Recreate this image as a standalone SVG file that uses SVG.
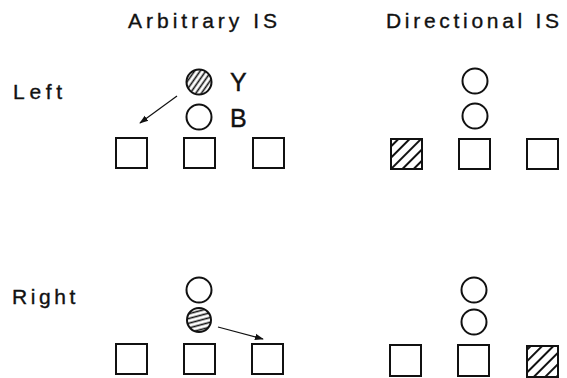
<svg xmlns="http://www.w3.org/2000/svg" width="567" height="378" viewBox="0 0 567 378">
  <style>
    .lbl { font-family: "Liberation Sans", Arial, sans-serif; font-size: 21px; letter-spacing: 4px; fill: #111; stroke: #111; stroke-width: 0.35px; }
    .tag { font-family: "Liberation Sans", Arial, sans-serif; font-size: 25px; fill: #111; stroke: #111; stroke-width: 0.4px; }
    .box { fill: #fff; stroke: #111; stroke-width: 2; }
    .dot { fill: #fff; stroke: #111; stroke-width: 2; }
    .arrow { stroke: #111; stroke-width: 1.2; fill: none; marker-end: url(#head); }
  </style>
  <defs>
    <marker id="head" viewBox="0 0 10 10" refX="9" refY="5" markerWidth="9" markerHeight="9" markerUnits="userSpaceOnUse" orient="auto">
      <path d="M0,1.5 L10,5 L0,8.5 Z" fill="#111"/>
    </marker>
    <pattern id="hatchBox" width="8" height="8" patternUnits="userSpaceOnUse" patternTransform="rotate(-45)">
      <line x1="0" y1="4" x2="8" y2="4" stroke="#111" stroke-width="2"/>
    </pattern>
    <pattern id="hatchSteep" width="4.6" height="4.6" patternUnits="userSpaceOnUse" patternTransform="rotate(-55)">
      <line x1="0" y1="2.3" x2="4.6" y2="2.3" stroke="#111" stroke-width="1.6"/>
    </pattern>
    <pattern id="hatchFlat" width="4.6" height="4.6" patternUnits="userSpaceOnUse" patternTransform="rotate(-15)">
      <line x1="0" y1="2.3" x2="4.6" y2="2.3" stroke="#111" stroke-width="1.6"/>
    </pattern>
  </defs>

  <!-- column and row headings -->
  <g id="headings">
    <text class="lbl" x="128" y="28">Arbitrary IS</text>
    <text class="lbl" x="386" y="28" style="letter-spacing:3.7px">Directional IS</text>
    <text class="lbl" x="13" y="99" style="letter-spacing:4.7px">Left</text>
    <text class="lbl" x="12" y="304" style="letter-spacing:3.6px">Right</text>
  </g>

  <!-- Arbitrary IS, left -->
  <g id="arb-left-yellow">
    <circle class="dot" cx="199" cy="82" r="12.5" style="fill:url(#hatchSteep)"/>
    <text class="tag" x="230" y="91">Y</text>
  </g>
  <g id="arb-left-blue">
    <circle class="dot" cx="199" cy="117" r="12.5"/>
    <text class="tag" x="230" y="127">B</text>
  </g>
  <g id="arb-left-box1"><rect class="box" x="116" y="138" width="31" height="30"/></g>
  <g id="arb-left-box2"><rect class="box" x="184" y="138" width="31" height="30"/></g>
  <g id="arb-left-box3"><rect class="box" x="253" y="138" width="31" height="30"/></g>

  <!-- Directional IS, left -->
  <g id="dir-left-top"><circle class="dot" cx="475" cy="81" r="12.5"/></g>
  <g id="dir-left-bottom"><circle class="dot" cx="475" cy="116" r="12.5"/></g>
  <g id="dir-left-box1"><rect class="box" x="391" y="139" width="31" height="30" style="fill:url(#hatchBox)"/></g>
  <g id="dir-left-box2"><rect class="box" x="459" y="139" width="31" height="30"/></g>
  <g id="dir-left-box3"><rect class="box" x="527" y="139" width="31" height="30"/></g>

  <!-- Arbitrary IS, right -->
  <g id="arb-right-top"><circle class="dot" cx="199" cy="290" r="12.5"/></g>
  <g id="arb-right-bottom"><circle class="dot" cx="199" cy="320" r="12" style="fill:url(#hatchFlat)"/></g>
  <g id="arb-right-box1"><rect class="box" x="116" y="344" width="31" height="30"/></g>
  <g id="arb-right-box2"><rect class="box" x="184" y="344" width="31" height="30"/></g>
  <g id="arb-right-box3"><rect class="box" x="252" y="344" width="31" height="30"/></g>

  <!-- Directional IS, right -->
  <g id="dir-right-top"><circle class="dot" cx="474" cy="290" r="12.5"/></g>
  <g id="dir-right-bottom"><circle class="dot" cx="474" cy="322" r="12.5"/></g>
  <g id="dir-right-box1"><rect class="box" x="390" y="345" width="31" height="31"/></g>
  <g id="dir-right-box2"><rect class="box" x="458" y="345" width="31" height="31"/></g>
  <g id="dir-right-box3"><rect class="box" x="527" y="346" width="31" height="31" style="fill:url(#hatchBox)"/></g>

  <!-- connectors -->
  <g id="connectors">
    <line class="arrow" x1="177" y1="96" x2="140" y2="123"/>
    <line class="arrow" x1="218" y1="327" x2="263" y2="339"/>
  </g>
</svg>
